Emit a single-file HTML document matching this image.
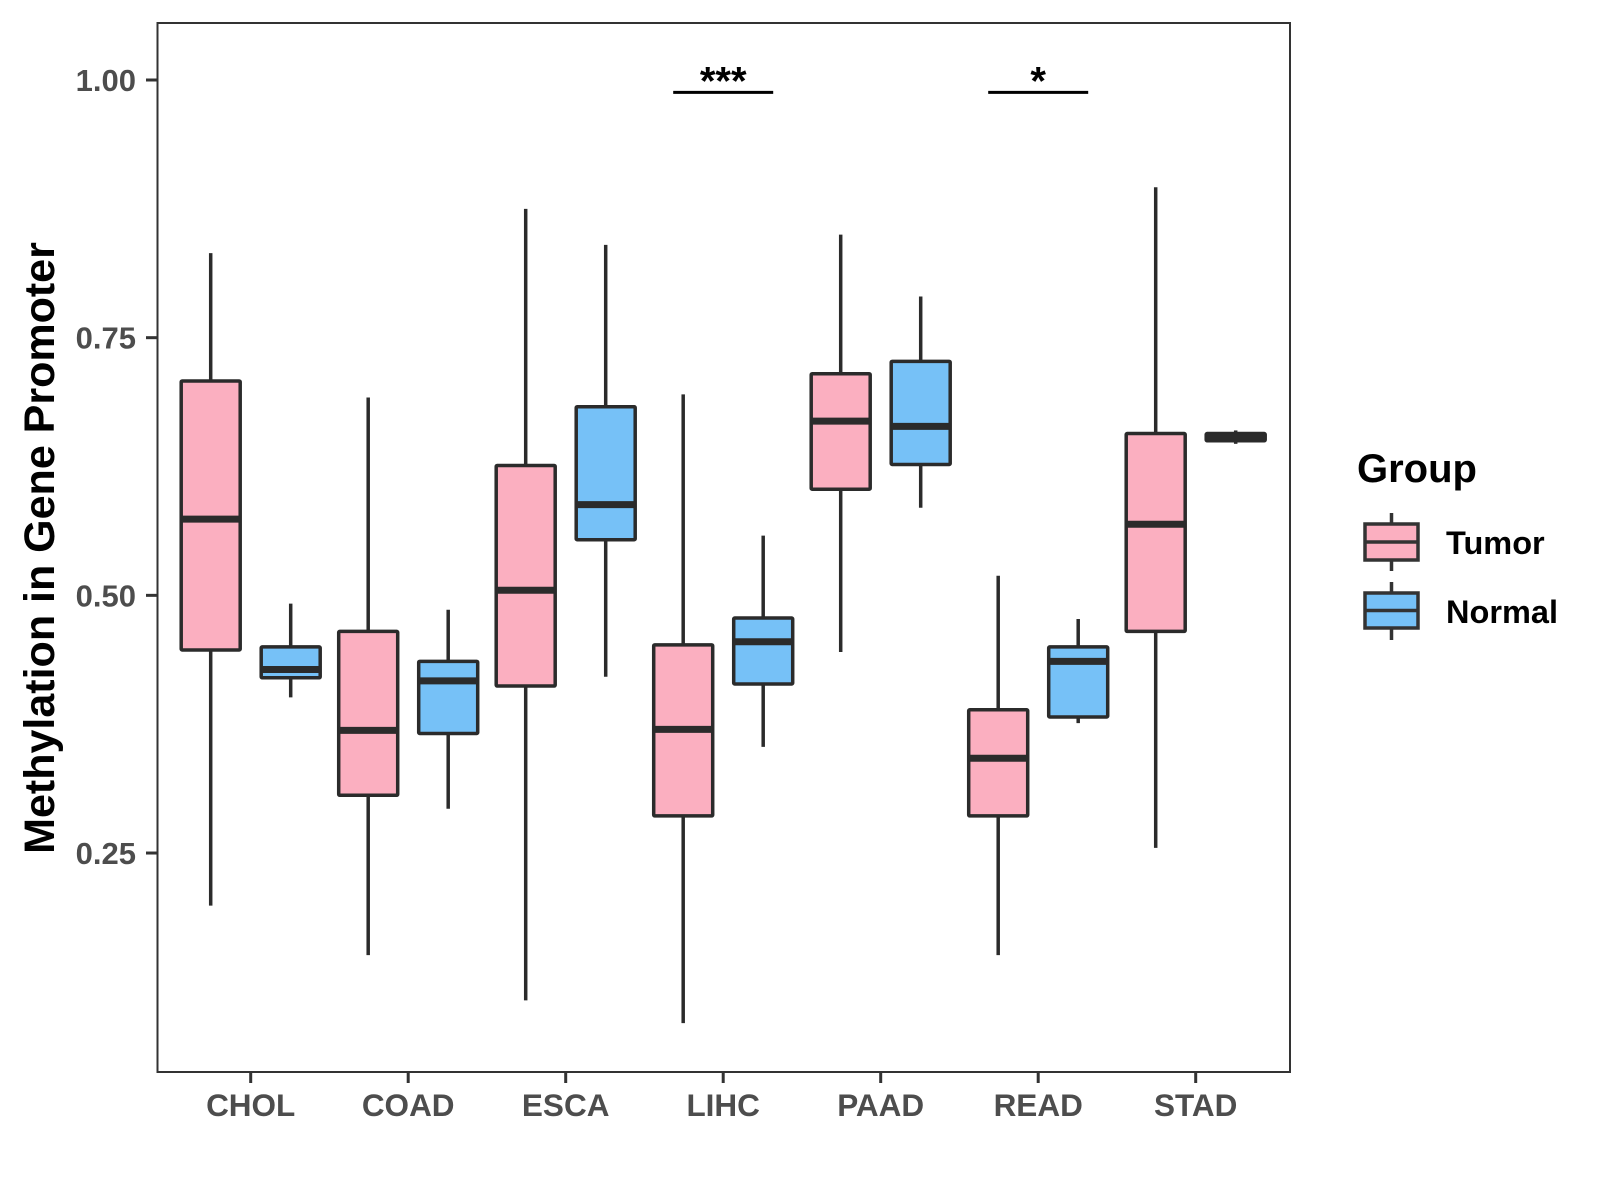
<!DOCTYPE html>
<html><head><meta charset="utf-8"><style>
html,body{margin:0;padding:0;background:#fff;}
svg{display:block;font-family:"Liberation Sans",Arial,sans-serif;}
</style></head><body>
<svg id="chart" width="1600" height="1200" viewBox="0 0 1600 1200">
<rect x="157.5" y="23" width="1132.5" height="1049" fill="#fff" stroke="#333" stroke-width="2"/>
<g id="marks"></g>
<g id="axes"></g>
<text transform="translate(54,548) rotate(-90)" text-anchor="middle" font-size="43" font-weight="bold" fill="#000">Methylation in Gene Promoter</text>
<g>
<text x="1357" y="482" font-size="40" font-weight="bold" fill="#000">Group</text>
<g>
<line x1="1391.5" y1="513" x2="1391.5" y2="571" stroke="#333" stroke-width="3.5"/>
<rect x="1365" y="524" width="53" height="36" fill="#FBAFC0" stroke="#333" stroke-width="3.5"/>
<line x1="1365" y1="542" x2="1418" y2="542" stroke="#333" stroke-width="3.5"/>
<text x="1446" y="554" font-size="32.5" font-weight="bold" fill="#000">Tumor</text>
</g>
<g>
<line x1="1391.5" y1="582" x2="1391.5" y2="640" stroke="#333" stroke-width="3.5"/>
<rect x="1365" y="593" width="53" height="35" fill="#76C1F7" stroke="#333" stroke-width="3.5"/>
<line x1="1365" y1="610.5" x2="1418" y2="610.5" stroke="#333" stroke-width="3.5"/>
<text x="1446" y="623" font-size="32.5" font-weight="bold" fill="#000">Normal</text>
</g>
</g>
</svg>
<script>
const categories = ["CHOL","COAD","ESCA","LIHC","PAAD","READ","STAD"];
// each: [whiskerLow, q1, median, q3, whiskerHigh]
const tumorStats = [
 [0.199,0.447,0.574,0.708,0.832],
 [0.151,0.306,0.369,0.465,0.692],
 [0.107,0.412,0.505,0.626,0.875],
 [0.085,0.286,0.370,0.452,0.695],
 [0.445,0.603,0.669,0.715,0.850],
 [0.151,0.286,0.342,0.389,0.519],
 [0.255,0.465,0.569,0.657,0.896]
];
const normalStats = [
 [0.401,0.420,0.428,0.450,0.492],
 [0.293,0.366,0.417,0.436,0.486],
 [0.421,0.554,0.588,0.683,0.840],
 [0.353,0.414,0.455,0.478,0.558],
 [0.585,0.627,0.664,0.727,0.790],
 [0.376,0.382,0.436,0.450,0.477],
 [0.647,0.650,0.654,0.657,0.660]
];
const yTicks = [0.25,0.50,0.75,1.00];
const yTickLabels = ["0.25","0.50","0.75","1.00"];
const sigLabels = [{cat:"LIHC",label:"***",y:0.988},{cat:"READ",label:"*",y:0.988}];

const NS="http://www.w3.org/2000/svg";
const yScale = v => 80 + (1 - v) * 1030.7;
const xScale = i => 250.7 + 157.5 * i;
const marks=document.getElementById('marks');
const axes=document.getElementById('axes');
function mk(tag,attrs,parent){const e=document.createElementNS(NS,tag);for(const k in attrs)e.setAttribute(k,attrs[k]);parent.appendChild(e);return e;}

function drawBox(s,cx,fill,name){
  const g=mk('g',{},marks);
  
  
  const hw=29.5;
  mk('line',{x1:cx,x2:cx,y1:yScale(s[4]),y2:yScale(s[0]),stroke:'#2b2b2b','stroke-width':3.5},g);
  const top=yScale(s[3]),bot=yScale(s[1]);
  mk('rect',{x:cx-hw,y:top,width:hw*2,height:Math.max(bot-top,1),fill:fill,stroke:'#2b2b2b','stroke-width':3.5,rx:1},g);
  mk('line',{x1:cx-hw,x2:cx+hw,y1:yScale(s[2]),y2:yScale(s[2]),stroke:'#2b2b2b','stroke-width':7},g);
}
categories.forEach((c,i)=>{
  drawBox(tumorStats[i],xScale(i)-40,'#FBAFC0','box-tumor-'+c.toLowerCase());
  drawBox(normalStats[i],xScale(i)+40,'#76C1F7','box-normal-'+c.toLowerCase());
  const t=mk('line',{x1:xScale(i),x2:xScale(i),y1:1072,y2:1083,stroke:'#333','stroke-width':3},axes);
  
  
  const l=mk('text',{x:xScale(i),y:1116,'text-anchor':'middle','font-size':31.5,'font-weight':'bold',fill:'#4d4d4d'},axes);
  l.textContent=c;
  
  
});
yTicks.forEach((v,i)=>{
  const t=mk('line',{x1:146,x2:157.5,y1:yScale(v),y2:yScale(v),stroke:'#333','stroke-width':3},axes);
  
  
  const l=mk('text',{x:136,y:yScale(v)+11,'text-anchor':'end','font-size':31,'font-weight':'bold',fill:'#4d4d4d'},axes);
  l.textContent=yTickLabels[i];
  
  
});
sigLabels.forEach(s=>{
  const i=categories.indexOf(s.cat);const cx=xScale(i);
  const ln=mk('line',{x1:cx-50,x2:cx+50,y1:yScale(s.y),y2:yScale(s.y),stroke:'#000','stroke-width':3},marks);
  
  
  const tx=mk('text',{x:cx,y:yScale(s.y)+2,'text-anchor':'middle','font-size':40,'font-weight':'bold',fill:'#000'},marks);
  tx.textContent=s.label;
  
  
});
</script>
</body></html>
